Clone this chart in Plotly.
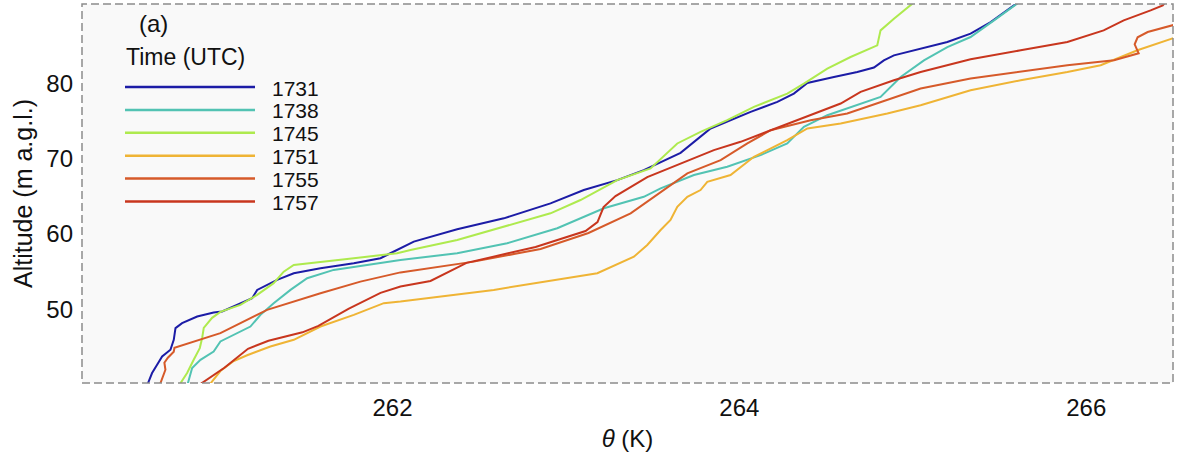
import plotly.graph_objects as go

# ---------------- data ----------------
times = ["1731", "1738", "1745", "1751", "1755", "1757"]

theta_1731 = [260.587, 260.614, 260.643, 260.672, 260.72, 260.739, 260.749, 260.787, 260.874, 260.969,
              261.018, 261.104, 261.191, 261.22, 261.258, 261.335, 261.431, 261.585, 261.777, 261.931,
              261.988, 262.123, 262.373, 262.642, 262.911, 263.103, 263.296, 263.449, 263.661, 263.834,
              264.065, 264.219, 264.314, 264.392, 264.545, 264.68, 264.776, 264.833, 264.891, 265.045,
              265.199, 265.333, 265.449, 265.583, 265.622]
alt_1731 = [40.0, 41.55, 42.65, 43.75, 44.64, 45.96, 47.51, 48.17, 49.05, 49.58,
            49.71, 50.6, 51.48, 52.58, 53.02, 53.91, 54.79, 55.45, 56.12, 56.78,
            57.44, 58.98, 60.62, 62.07, 64.06, 65.82, 67.14, 68.47, 70.76, 73.99,
            76.19, 77.51, 78.62, 80.03, 80.82, 81.48, 82.07, 83.03, 83.69, 84.58,
            85.46, 86.57, 88.1, 90.31, 90.98]

theta_1738 = [260.818, 260.845, 260.893, 260.969, 261.008, 261.104, 261.181, 261.239, 261.315, 261.412,
              261.508, 261.661, 261.854, 262.046, 262.373, 262.661, 262.95, 263.219, 263.449, 263.546,
              263.738, 263.93, 264.122, 264.276, 264.314, 264.372, 264.507, 264.699, 264.814, 264.93,
              265.064, 265.199, 265.333, 265.468, 265.603, 265.627]
alt_1738 = [40.0, 42.21, 43.31, 44.41, 45.74, 46.85, 47.72, 49.27, 50.82, 52.58,
            54.13, 55.23, 55.89, 56.55, 57.44, 58.76, 60.75, 63.4, 64.93, 66.05,
            67.81, 68.91, 70.45, 72.0, 72.88, 74.2, 75.75, 77.3, 78.17, 80.82,
            83.03, 84.79, 86.12, 88.33, 90.54, 90.98]

theta_1745 = [260.772, 260.816, 260.854, 260.889, 260.903, 260.912, 260.96, 261.008, 261.123, 261.22,
              261.315, 261.373, 261.431, 261.585, 261.777, 262.027, 262.104, 262.373, 262.642, 262.911,
              263.084, 263.296, 263.488, 263.642, 263.776, 263.93, 264.084, 264.276, 264.372, 264.507,
              264.641, 264.795, 264.814, 264.891, 264.997, 265.016]
alt_1745 = [40.0, 41.55, 43.31, 44.86, 46.23, 47.55, 48.87, 49.67, 50.6, 51.92,
            53.47, 55.0, 55.89, 56.33, 56.78, 57.44, 57.88, 59.2, 60.96, 62.74,
            64.5, 67.14, 68.69, 72.0, 73.54, 75.09, 76.85, 78.62, 79.95, 81.93,
            83.47, 85.02, 87.0, 88.55, 90.54, 90.98]

theta_1751 = [260.945, 261.008, 261.085, 261.162, 261.296, 261.431, 261.585, 261.777, 261.95, 262.046,
              262.584, 263.181, 263.392, 263.469, 263.546, 263.603, 263.642, 263.7, 263.776, 263.815,
              263.949, 264.084, 264.276, 264.392, 264.584, 264.853, 265.045, 265.333, 265.622, 265.891,
              266.083, 266.198, 266.295, 266.516]
alt_1751 = [40.0, 41.82, 43.14, 43.91, 45.07, 45.96, 47.72, 49.27, 50.82, 51.03,
            52.58, 54.79, 56.99, 58.54, 60.52, 61.85, 63.61, 64.93, 65.82, 66.92,
            67.81, 70.23, 72.44, 73.99, 74.65, 75.98, 77.07, 79.06, 80.38, 81.48,
            82.37, 83.47, 84.36, 86.08]

theta_1755 = [260.659, 260.691, 260.685, 260.705, 260.739, 260.743, 261.008, 261.277, 261.585, 261.815,
              262.046, 262.469, 262.854, 263.13, 263.373, 263.546, 263.7, 263.892, 264.046, 264.18,
              264.411, 264.622, 264.853, 265.045, 265.333, 265.622, 265.891, 266.16, 266.302, 266.279,
              266.296, 266.354, 266.429, 266.516]
alt_1755 = [40.0, 41.99, 42.92, 43.58, 44.37, 44.9, 46.85, 49.93, 52.14, 53.68,
            54.9, 56.33, 58.01, 60.13, 62.74, 65.6, 68.03, 69.79, 72.0, 73.76,
            75.09, 75.98, 77.74, 79.29, 80.61, 81.48, 82.37, 83.03, 83.96, 85.15,
            86.08, 86.78, 87.23, 87.8]

theta_1757 = [260.887, 261.031, 261.167, 261.285, 261.481, 261.573, 261.746, 261.931, 262.046, 262.219,
              262.427, 262.825, 263.113, 263.182, 263.217, 263.286, 263.469, 263.661, 263.853, 264.007,
              264.18, 264.353, 264.584, 264.699, 264.891, 265.045, 265.333, 265.622, 265.891, 266.1,
              266.216, 266.371, 266.441, 266.464]
alt_1757 = [40.0, 42.25, 44.77, 45.83, 46.95, 47.81, 50.07, 52.18, 53.02, 53.77,
            56.16, 58.27, 60.39, 61.58, 63.57, 65.03, 67.54, 69.36, 71.12, 72.22,
            73.76, 75.31, 77.3, 78.84, 80.38, 81.48, 83.16, 84.36, 85.46, 87.0,
            88.33, 89.65, 90.31, 90.98]

x_tickvals = [262, 264, 266]
y_tickvals = [50, 60, 70, 80]

# ---------------- styling ----------------
colors = ["#1c1ca6", "#52c3b3", "#aeea4e", "#efb435", "#d65a2a", "#c8361e"]
FONT = "Liberation Sans, Arial, Helvetica, sans-serif"

W, H = 1179, 458
ML, MR, MT, MB = 82, 6, 4, 75
PW, PH = W - ML - MR, H - MT - MB


def px(x):
    return (x - ML) / PW


def py(y):
    return (H - MB - y) / PH


series = [
    (theta_1731, alt_1731), (theta_1738, alt_1738), (theta_1745, alt_1745),
    (theta_1751, alt_1751), (theta_1755, alt_1755), (theta_1757, alt_1757),
]

fig = go.Figure()
for name, (th, al), c in zip(times, series, colors):
    fig.add_trace(go.Scatter(x=th, y=al, mode="lines", name=name,
                             line=dict(color=c, width=2), showlegend=False))

shapes = [dict(type="rect", xref="paper", yref="paper", x0=0, y0=0, x1=1, y1=1,
               line=dict(color="#8c8c8c", width=1.5, dash="8px,4px"), layer="above")]
annotations = [
    dict(text="(a)", x=px(137), y=py(23), xref="paper", yref="paper", xanchor="left",
         yanchor="middle", showarrow=False, font=dict(size=24, color="#111", family=FONT)),
    dict(text="Time (UTC)", x=px(124), y=py(57), xref="paper", yref="paper", xanchor="left",
         yanchor="middle", showarrow=False, font=dict(size=23, color="#111", family=FONT)),
]
for i, (name, c) in enumerate(zip(times, colors)):
    yy = 87 + 22.9 * i
    shapes.append(dict(type="line", xref="paper", yref="paper", x0=px(125), x1=px(255),
                       y0=py(yy), y1=py(yy), line=dict(color=c, width=2.5)))
    annotations.append(dict(text=name, x=px(270), y=py(yy + 1), xref="paper", yref="paper",
                            xanchor="left", yanchor="middle", showarrow=False,
                            font=dict(size=21, color="#111", family=FONT)))

fig.update_layout(
    width=W, height=H,
    margin=dict(l=ML, r=MR, t=MT, b=MB, pad=0),
    paper_bgcolor="white", plot_bgcolor="#f9f9f9",
    font=dict(family=FONT, size=24, color="#111"),
    shapes=shapes, annotations=annotations,
    xaxis=dict(range=[260.21, 266.5], tickvals=x_tickvals, ticks="", showgrid=False,
               zeroline=False, showline=False, tickfont=dict(size=24), ticklabelstandoff=8,
               title=dict(text="<i>θ</i> (K)", font=dict(size=24), standoff=10)),
    yaxis=dict(range=[40.23, 90.5], tickvals=y_tickvals, ticks="", showgrid=False,
               zeroline=False, showline=False, tickfont=dict(size=24), ticklabelstandoff=8,
               title=dict(text="Altitude (m a.g.l.)", font=dict(size=25), standoff=6)),
)

fig.write_html("out.html")
